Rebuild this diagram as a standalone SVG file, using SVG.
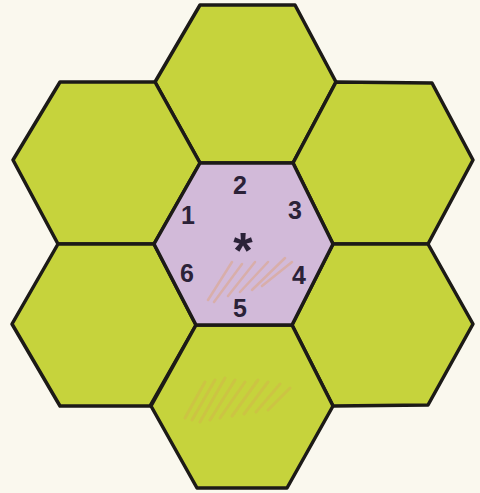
<svg xmlns="http://www.w3.org/2000/svg" width="480" height="493" viewBox="0 0 480 493">
  <style>
    .hex { stroke: #1c1a17; stroke-width: 3.5; stroke-linejoin: round; }
    .green { fill: #c6d33c; }
    .purple { fill: #d2bad9; }
    .num { font-family: "Liberation Sans", Arial, sans-serif; font-weight: bold; font-size: 25px; fill: #2b2238; text-anchor: middle; }
    .star { font-family: "Liberation Sans", Arial, sans-serif; font-weight: bold; font-size: 50px; fill: #2b2238; text-anchor: middle; }
    .scrib { fill: none; stroke: #e0a070; stroke-width: 2.5; stroke-linecap: round; opacity: 0.45; }
    .scrib2 { fill: none; stroke: #d8a850; stroke-width: 3; stroke-linecap: round; opacity: 0.35; }
  </style>
  <rect width="480" height="493" fill="#faf8ee"/>
  <g id="hex-top">
    <polygon class="hex green" points="200,5 295,5 336,82 293,163 200,163 155,82"/>
  </g>
  <g id="hex-upper-left">
    <polygon class="hex green" points="60,82 155,82 200,163 154,244 58,244 13,160"/>
  </g>
  <g id="hex-upper-right">
    <polygon class="hex green" points="336,82 432,83 473,160 428,244 333,244 293,163"/>
  </g>
  <g id="hex-lower-left">
    <polygon class="hex green" points="58,244 154,244 196,325 150,406 60,406 12,324"/>
  </g>
  <g id="hex-lower-right">
    <polygon class="hex green" points="333,244 428,244 473,324 428,405 333,406 292,325"/>
  </g>
  <g id="hex-bottom">
    <polygon class="hex green" points="196,325 292,325 333,406 287,488 197,488 151,406"/>
    <path class="scrib2" d="M185,418 L205,382 M192,420 L215,380 M200,422 L225,378 M210,420 L235,380 M220,418 L245,382 M232,416 L258,380 M244,414 L268,382 M256,412 L280,384 M268,410 L290,388"/>
  </g>
  <g id="hex-center">
    <polygon class="hex purple" points="200,163 293,163 333,244 292,325 196,325 154,244"/>
    <path class="scrib" d="M208,300 L232,262 M214,302 L242,264 M228,296 L255,262 M240,292 L268,262 M252,290 L285,258 M262,286 L292,262"/>
    <text class="num" x="240" y="194">2</text>
    <text class="num" x="188" y="224">1</text>
    <text class="num" x="295" y="219">3</text>
    <text class="star" x="243" y="268">*</text>
    <text class="num" x="187" y="282">6</text>
    <text class="num" x="299" y="284">4</text>
    <text class="num" x="240" y="317">5</text>
  </g>
  <g id="connectors"></g>
</svg>
